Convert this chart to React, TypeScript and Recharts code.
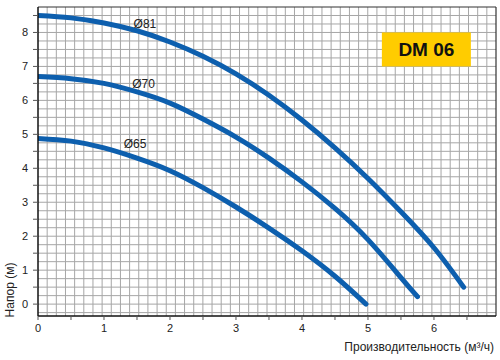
import {
  Label,
  Line,
  LineChart,
  ReferenceDot,
  ReferenceLine,
  XAxis,
  YAxis,
} from 'recharts'

// flow (m3/h) and head (m)
const flow81 = [0, 0.5, 1, 1.5, 2, 2.5, 3, 3.5, 4, 4.5, 5, 5.5, 6, 6.45]
const head81 = [8.5, 8.43, 8.28, 8.05, 7.72, 7.3, 6.78, 6.15, 5.42, 4.6, 3.7, 2.72, 1.66, 0.5]
const flow70 = [0, 0.5, 1, 1.5, 2, 2.5, 3, 3.5, 4, 4.5, 5, 5.5, 5.75]
const head70 = [6.7, 6.64, 6.5, 6.25, 5.92, 5.45, 4.92, 4.3, 3.6, 2.82, 1.9, 0.78, 0.22]
const flow65 = [0, 0.5, 1, 1.5, 2, 2.5, 3, 3.5, 4, 4.5, 4.97]
const head65 = [4.88, 4.8, 4.6, 4.3, 3.93, 3.43, 2.86, 2.24, 1.57, 0.82, 0]

const curveNames = ['Ø81', 'Ø70', 'Ø65']
const labelX = [1.62, 1.6, 1.47]
const labelY = [8.27, 6.5, 4.73]

const xTicks = [0, 0.5, 1, 1.5, 2, 2.5, 3, 3.5, 4, 4.5, 5, 5.5, 6, 6.5]
const yTicks = [0, 0.5, 1, 1.5, 2, 2.5, 3, 3.5, 4, 4.5, 5, 5.5, 6, 6.5, 7, 7.5, 8, 8.5]

const X_MAX = 6.94
const Y_MIN = -0.35
const Y_MAX = 8.75

// background paper grid (not tied to the tick units)
const gridX: number[] = []
for (let i = 1; i < 50; i++) gridX.push((X_MAX * i) / 50)
const gridY: number[] = []
for (let v = -0.25; v < Y_MAX - 0.01; v += 0.25) gridY.push(v)

const toPoints = (xs: number[], ys: number[]) => xs.map((x, i) => ({ x, h: ys[i] }))
const series = [toPoints(flow81, head81), toPoints(flow70, head70), toPoints(flow65, head65)]

const blue = '#0d5fae'
const gridColor = '#a6a6a6'
const font = 'Arial, "Liberation Sans", sans-serif'
const intLabel = (v: number) => (Number.isInteger(v) ? `${v}` : '')

// yellow model badge, drawn around its anchor point
const Badge = ({ cx, cy }: any) => (
  <g>
    <rect x={cx - 44.5} y={cy - 17} width={89} height={34} fill='#ffcc00' />
    <text
      x={cx}
      y={cy}
      textAnchor='middle'
      dominantBaseline='central'
      fontSize={19}
      fontWeight='bold'
      fill='#111'
    >
      DM 06
    </text>
  </g>
)

export default function App() {
  return (
    <div style={{ position: 'absolute', top: 0, left: 0, background: '#fff' }}>
      <LineChart
        width={500}
        height={360}
        margin={{ top: 7, right: 4, left: 37, bottom: 43 }}
        style={{ fontFamily: font }}
      >
        <XAxis
          type='number'
          dataKey='x'
          domain={[0, X_MAX]}
          ticks={xTicks}
          allowDataOverflow
          height={1}
          tickSize={4}
          tickMargin={4}
          tickFormatter={intLabel}
          tick={{ fontSize: 11, fill: '#222' }}
          axisLine={{ stroke: '#111', strokeWidth: 1.5 }}
          tickLine={{ stroke: '#555' }}
        >
          <Label
            content={({ viewBox }: any) => (
              <text
                x={viewBox.x + viewBox.width - 2}
                y={viewBox.y + 35}
                textAnchor='end'
                fontSize={12}
                fill='#222'
              >
                Производительность (м³/ч)
              </text>
            )}
          />
        </XAxis>
        <YAxis
          type='number'
          domain={[Y_MIN, Y_MAX]}
          ticks={yTicks}
          allowDataOverflow
          width={1}
          tickSize={5}
          tickMargin={5}
          tickFormatter={intLabel}
          tick={{ fontSize: 11, fill: '#222' }}
          axisLine={{ stroke: '#111', strokeWidth: 1.5 }}
          tickLine={{ stroke: '#555' }}
        >
          <Label
            content={({ viewBox }: any) => {
              const cx = viewBox.x - 27
              const cy = viewBox.y + viewBox.height - 26
              return (
                <text
                  x={cx}
                  y={cy}
                  transform={`rotate(-90, ${cx}, ${cy})`}
                  textAnchor='middle'
                  dominantBaseline='central'
                  fontSize={12}
                  fill='#222'
                >
                  Напор (м)
                </text>
              )
            }}
          />
        </YAxis>
        {gridX.map((v) => (
          <ReferenceLine key={`gx${v}`} x={v} stroke={gridColor} strokeWidth={1} />
        ))}
        {gridY.map((v) => (
          <ReferenceLine key={`gy${v}`} y={v} stroke={gridColor} strokeWidth={1} />
        ))}
        <ReferenceLine y={Y_MAX} stroke='#333' strokeWidth={1.2} ifOverflow='visible' />
        <ReferenceLine x={X_MAX} stroke='#333' strokeWidth={1.2} ifOverflow='visible' />
        <ReferenceDot x={5.885} y={7.5} r={1} shape={Badge} />
        {series.map((pts, i) => (
          <Line
            key={curveNames[i]}
            data={pts}
            dataKey='h'
            type='natural'
            stroke={blue}
            strokeWidth={5}
            strokeLinecap='round'
            dot={false}
            activeDot={false}
            isAnimationActive={false}
          />
        ))}
        {curveNames.map((name, i) => (
          <ReferenceDot
            key={name}
            x={labelX[i]}
            y={labelY[i]}
            r={0}
            fill='none'
            stroke='none'
            label={{ value: name, position: 'center', fontSize: 12, fill: '#222' }}
          />
        ))}
      </LineChart>
    </div>
  )
}
